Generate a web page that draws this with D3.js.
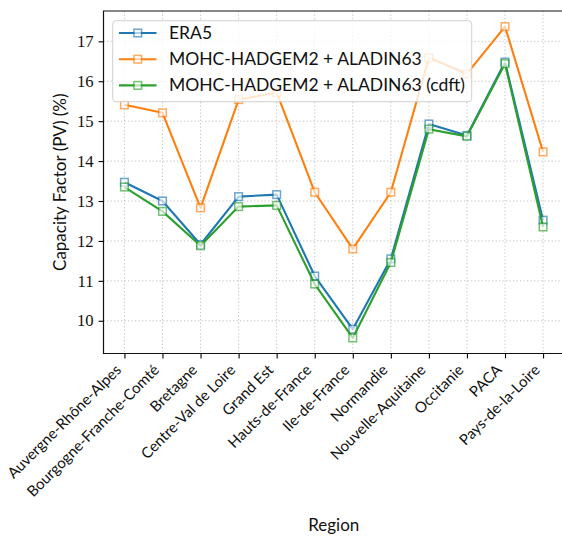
<!DOCTYPE html>
<html>
<head>
<meta charset="utf-8">
<script src="https://cdn.jsdelivr.net/npm/d3@7"></script>
<style>
  html, body { margin: 0; padding: 0; background: #fff; }
  svg { display: block; }
</style>
</head>
<body>
<svg id="chart" width="562" height="541"></svg>
<script>
// Regions of France
const regions = [
  "Auvergne-Rhône-Alpes", "Bourgogne-Franche-Comté", "Bretagne", "Centre-Val de Loire",
  "Grand Est", "Hauts-de-France", "Ile-de-France", "Normandie",
  "Nouvelle-Aquitaine", "Occitanie", "PACA", "Pays-de-la-Loire"
];

// Mean PV capacity factor (%) per region
const era5 = [13.47, 13.00, 11.91, 13.11, 13.16, 11.12, 9.79, 11.55, 14.93, 14.64, 16.48, 12.52];
const hadgemAladin = [15.41, 15.21, 12.83, 15.54, 15.72, 13.22, 11.80, 13.22, 16.59, 16.19, 17.37, 14.23];
const hadgemAladinCdft = [13.35, 12.74, 11.88, 12.86, 12.89, 10.92, 9.57, 11.46, 14.80, 14.62, 16.44, 12.35];

const seriesNames = ["ERA5", "MOHC-HADGEM2 + ALADIN63", "MOHC-HADGEM2 + ALADIN63 (cdft)"];
const seriesValues = [era5, hadgemAladin, hadgemAladinCdft];
const seriesColors = ["#1f77b4", "#ff7f0e", "#2ca02c"];

const yTicks = [10, 11, 12, 13, 14, 15, 16, 17];

const SANS = "Lato, 'Open Sans', sans-serif";
const SERIF = "'Liberation Serif', 'DejaVu Serif', serif";

const svg = d3.select("#chart");
const plot = { left: 103.5, right: 564, top: 11, bottom: 353.5 };

// x: category index with 5% padding on each side
const n = regions.length;
const xPad = 0.05 * (n - 1);
const x = d3.scaleLinear().domain([-xPad, n - 1 + xPad]).range([plot.left, plot.right]);

// y: data extent with 5% padding
const allVals = seriesValues.flat();
const yMin = d3.min(allVals), yMax = d3.max(allVals);
const yPad = 0.05 * (yMax - yMin);
const y = d3.scaleLinear().domain([yMin - yPad, yMax + yPad]).range([plot.bottom, plot.top]);

// Grid
const grid = svg.append("g").attr("class", "grid");
grid.selectAll("line.gx").data(d3.range(n)).join("line")
  .attr("x1", d => x(d)).attr("x2", d => x(d))
  .attr("y1", plot.top).attr("y2", plot.bottom)
  .attr("stroke", "#c4c4c4").attr("stroke-width", 1).attr("stroke-dasharray", "1.3,2.2");
grid.selectAll("line.gy").data(yTicks).join("line")
  .attr("x1", plot.left).attr("x2", plot.right)
  .attr("y1", d => y(d)).attr("y2", d => y(d))
  .attr("stroke", "#c4c4c4").attr("stroke-width", 1).attr("stroke-dasharray", "1.3,2.2");

// Series lines and square markers
const line = d3.line().x((d, i) => x(i)).y(d => y(d));
const mSize = 7.6;
seriesValues.forEach((vals, k) => {
  const g = svg.append("g");
  g.append("path").datum(vals)
    .attr("d", line)
    .attr("fill", "none")
    .attr("stroke", seriesColors[k])
    .attr("stroke-width", 2.1)
    .attr("stroke-linejoin", "round");
  g.append("g").attr("opacity", 0.65)
    .selectAll("rect").data(vals).join("rect")
    .attr("x", (d, i) => x(i) - mSize / 2)
    .attr("y", d => y(d) - mSize / 2)
    .attr("width", mSize).attr("height", mSize)
    .attr("fill", "#fff")
    .attr("stroke", seriesColors[k])
    .attr("stroke-width", 1.5);
});

// Axes
const tickLen = 4.9, tickPad = 4.9;
const xAxis = d3.axisBottom(x).tickValues(d3.range(n)).tickFormat("").tickSize(tickLen).tickSizeOuter(0);
const yAxis = d3.axisLeft(y).tickValues(yTicks).tickFormat("").tickSize(tickLen).tickSizeOuter(0);

const gx = svg.append("g").attr("transform", `translate(0,${plot.bottom})`).call(xAxis);
const gy = svg.append("g").attr("transform", `translate(${plot.left},0)`).call(yAxis);
[gx, gy].forEach(g => {
  g.select(".domain").remove();
  g.selectAll(".tick line").attr("stroke", "#000").attr("stroke-width", 1.1);
});

// Y tick labels
svg.append("g").selectAll("text").data(yTicks).join("text")
  .attr("x", plot.left - tickLen - tickPad)
  .attr("y", d => y(d))
  .attr("dy", "0.34em")
  .attr("text-anchor", "end")
  .attr("font-family", SERIF)
  .attr("font-size", 16.7)
  .attr("fill", "#111")
  .text(d => d);

// X tick labels rotated 45°, bbox top-right corner at the tick
const fsX = 15;
const asc = 0.72 * fsX, desc = 0.22 * fsX;
const c45 = Math.SQRT1_2;
const xLabTop = plot.bottom + tickLen + tickPad;
svg.append("g").selectAll("text").data(regions).join("text")
  .attr("text-anchor", "end")
  .attr("font-family", SANS)
  .attr("font-size", fsX)
  .attr("fill", "#111")
  .attr("transform", (d, i) => {
    const px = x(i) - c45 * desc;
    const py = xLabTop + c45 * asc;
    return `translate(${px},${py}) rotate(-45)`;
  })
  .text(d => d);

// Spines (left, bottom, top; right edge lies past the canvas)
const spines = svg.append("g").attr("stroke", "#111").attr("stroke-width", 1.2).attr("fill", "none");
spines.append("path")
  .attr("d", `M${plot.right},${plot.top}H${plot.left}V${plot.bottom}H${plot.right}V${plot.top}`)
  .attr("stroke-linecap", "square");

// Axis titles
svg.append("text")
  .attr("x", (plot.left + plot.right) / 2)
  .attr("y", 531)
  .attr("text-anchor", "middle")
  .attr("font-family", SANS)
  .attr("font-size", 17)
  .attr("fill", "#111")
  .text("Region");

svg.append("text")
  .attr("transform", `translate(66,${(plot.top + plot.bottom) / 2}) rotate(-90)`)
  .attr("text-anchor", "middle")
  .attr("font-family", SANS)
  .attr("font-size", 17)
  .attr("fill", "#111")
  .text("Capacity Factor (PV) (%)");

// Legend
const leg = svg.append("g");
leg.append("rect")
  .attr("x", 112.7).attr("y", 20.7)
  .attr("width", 359).attr("height", 81)
  .attr("rx", 3.5).attr("ry", 3.5)
  .attr("fill", "#fff").attr("fill-opacity", 0.8)
  .attr("stroke", "#d0d0d0").attr("stroke-width", 1);
const rowY = [33, 59.2, 85.4];
seriesNames.forEach((name, k) => {
  const r = leg.append("g").attr("transform", `translate(0,${rowY[k]})`);
  r.append("line").attr("x1", 119).attr("x2", 156.5).attr("y1", 0).attr("y2", 0)
    .attr("stroke", seriesColors[k]).attr("stroke-width", 2.1);
  r.append("rect").attr("x", 137.75 - mSize / 2).attr("y", -mSize / 2)
    .attr("width", mSize).attr("height", mSize)
    .attr("fill", "#fff").attr("stroke", seriesColors[k]).attr("stroke-width", 1.5)
    .attr("opacity", 0.65);
  r.append("text").attr("x", 169).attr("y", 6)
    .attr("font-family", SANS).attr("font-size", 17.5).attr("fill", "#111")
    .text(name);
});
</script>
</body>
</html>
